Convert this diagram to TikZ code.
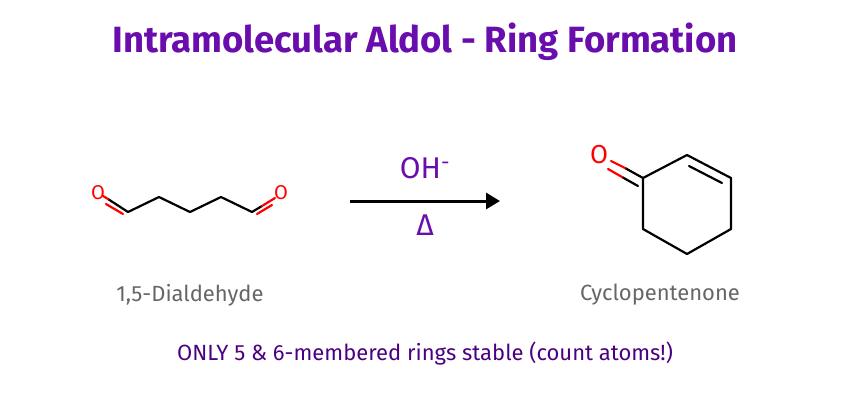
\documentclass[tikz,border=0pt]{standalone}
\usepackage{fontspec}
\setmainfont{Fira Sans}
\usetikzlibrary{arrows.meta}
\definecolor{ttl}{HTML}{6A0DAD}
\definecolor{gr}{HTML}{666666}
\definecolor{bt}{HTML}{4B0082}
\begin{document}
\begin{tikzpicture}[x=1pt,y=-1pt,
 bond/.style={line width=2.2pt,line cap=round,line join=round},
 ox/.style={text=red,font=\fontsize{20}{20}\selectfont,inner sep=0pt},
 lbl/.style={text=gr,font=\fontsize{22}{22}\selectfont}]
\useasboundingbox (0,0) rectangle (850,400);
\node[text=ttl,font=\fontsize{36.5}{36.5}\selectfont\bfseries] (title) at (425,42) {Intramolecular Aldol - Ring Formation};
% dialdehyde
\node[ox] (o1) at (98,193) {O};
\node[ox] (o2) at (281,193) {O};
\coordinate (a1) at (128,212); \coordinate (a2) at (159,197); \coordinate (a3) at (190,212);
\coordinate (a4) at (221,197); \coordinate (a5) at (252,212);
\draw[bond] (a1)--(a2)--(a3)--(a4)--(a5);
\draw[bond] (108,199)--(128,212); \draw[bond,red] (108,199)--(103,196);
\draw[bond,red] (106,204)--(123,214);
\draw[bond] (252,212)--(262,206); \draw[bond,red] (262,206)--(275,198);
\draw[bond,red] (257,214)--(272,205);
\node[lbl] (l1) at (190,295) {1,5-Dialdehyde};
% arrow
\coordinate (s) at (350,201); \coordinate (e) at (500,201);
\draw[line width=3pt,-{Triangle[length=14pt,width=16pt]}] (s)--(e);
\node[text=ttl,font=\fontsize{30}{30}\selectfont] (oh) at (425,168) {OH\textsuperscript{-}};
\node[text=ttl,font=\fontsize{30}{30}\selectfont] (dl) at (425,225) {Δ};
% ring
\coordinate (r1) at (643,178); \coordinate (r2) at (687,155); \coordinate (r3) at (731,178);
\coordinate (r4) at (731,229); \coordinate (r5) at (687,254); \coordinate (r6) at (643,229);
\draw[bond] (r1)--(r2)--(r3)--(r4)--(r5)--(r6)--cycle;
\draw[bond] (689,166)--(722,183);
\node[ox,font=\fontsize{26}{26}\selectfont] (o3) at (599,155) {O};
\draw[bond] (643,178)--(625,168); \draw[bond,red] (625,168)--(611,161);
\draw[bond] (638,186)--(622,177); \draw[bond,red] (622,177)--(608,169);
\node[lbl] (l2) at (660,295) {Cyclopentenone};
\node[text=bt,font=\fontsize{22}{22}\selectfont] (foot) at (425,354) {ONLY 5 \& 6-membered rings stable (count atoms!)};
\end{tikzpicture}
\end{document}
